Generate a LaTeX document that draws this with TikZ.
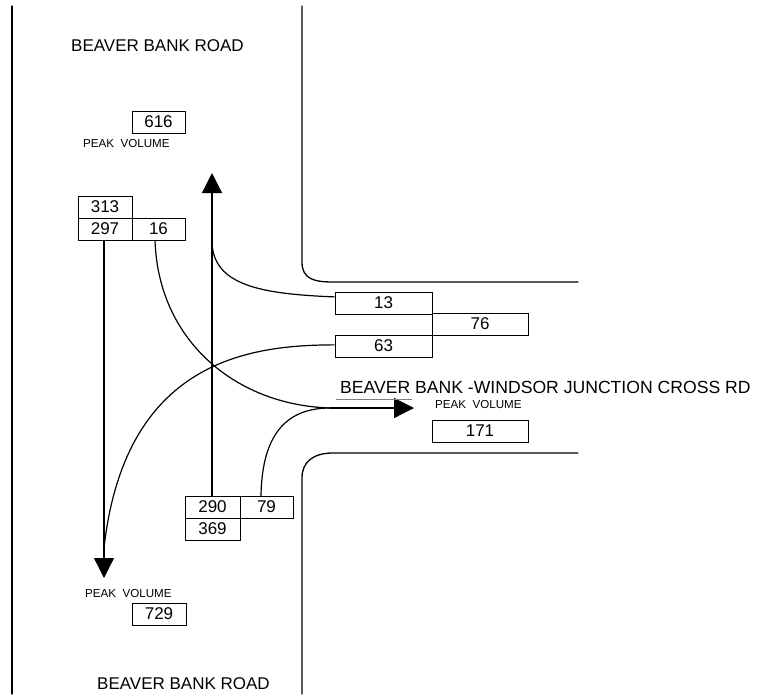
\documentclass[tikz,border=0pt]{standalone}
\usepackage{fontspec}
\setmainfont{Liberation Sans}
\usetikzlibrary{arrows.meta,calc}
\tikzset{
  road/.style={line width=1.3pt, line cap=round},
  flow/.style={line width=1.2pt},
  headtip/.style={-{Triangle[length=20pt,width=20pt]}},
  numbox/.style={draw, line width=0.6pt, inner sep=0pt, minimum height=22pt,
    font=\fontsize{17}{19}\selectfont},
  bigtext/.style={inner sep=0pt, anchor=base west, font=\fontsize{17}{19}\selectfont},
  smalltext/.style={inner sep=0pt, anchor=base west, font=\fontsize{11.6}{13}\selectfont}
}
\begin{document}
\begin{tikzpicture}[x=1pt,y=-1pt]
\useasboundingbox (0,0) rectangle (758,694);
% roads
\draw[road] (12,6) -- (12,694);
\draw[road] (302,6) -- (302,262) .. controls (302,279) and (314,282) .. (333,282) -- (578,282);
\draw[road] (578,453) -- (333,453) .. controls (313,453) and (302,462) .. (302,478) -- (302,694);
% texts
\node[bigtext] (tTop) at (71,51.5) {BEAVER BANK ROAD};
\node[bigtext] (tBot) at (97,689) {BEAVER BANK ROAD};
\node[bigtext, font=\fontsize{17.6}{20}\selectfont] (tRight) at (340,393) {BEAVER BANK -WINDSOR JUNCTION CROSS RD};
\node[smalltext] (pvTop) at (83,147.5) {PEAK\ \ VOLUME};
\node[smalltext] (pvBot) at (85,597) {PEAK\ \ VOLUME};
\node[smalltext] (pvRight) at (435,408) {PEAK\ \ VOLUME};
% boxes
\node[numbox, minimum width=53pt] (b616) at (158.5,122) {616};
\node[numbox, minimum width=54pt] (b313) at (105,207) {313};
\node[numbox, minimum width=54pt] (b297) at (105,229) {297};
\node[numbox, minimum width=53pt] (b16) at (158.5,229) {16};
\node[numbox, minimum width=97pt] (b13) at (383.5,303) {13};
\node[numbox, minimum width=96pt] (b76) at (480,324) {76};
\node[numbox, minimum width=97pt] (b63) at (383.5,346) {63};
\node[numbox, minimum width=96pt] (b171) at (480,431) {171};
\node[numbox, minimum width=55pt] (b290) at (212.5,507) {290};
\node[numbox, minimum width=53pt] (b79) at (266.5,507) {79};
\node[numbox, minimum width=55pt] (b369) at (212.5,529) {369};
\node[numbox, minimum width=54pt] (b729) at (159,614) {729};
% coordinates
\coordinate (upTip) at (212,173);
\coordinate (downTip) at (104,578);
\coordinate (j13) at (212,243);
\coordinate (j63) at (104,548);
\coordinate (merge) at (330,408);
\coordinate (rightTip) at (414,408);
\coordinate (s16) at (155,240);
\coordinate (s79) at (261,496);
% flows
\draw[flow, headtip] (b297.south -| downTip) -- (downTip);
\draw[flow, headtip] (b290.north -| upTip) -- (upTip);
\draw[flow] (j13) .. controls (214,285) and (260,294) .. ($(b13.north west)!0.23!(b13.south west)$);
\draw[flow] ($(b63.north west)!0.45!(b63.south west)$) .. controls (250,345) and (125,360) .. (j63);
\draw[flow] (s16) .. controls (158,340) and (235,405) .. (merge);
\draw[flow] (s79) .. controls (262,430) and (290,408) .. (merge);
\draw[flow, headtip] (merge) -- (rightTip);
\draw[line width=0.5pt, gray] (336,399) -- (412,399);
\end{tikzpicture}
\end{document}
